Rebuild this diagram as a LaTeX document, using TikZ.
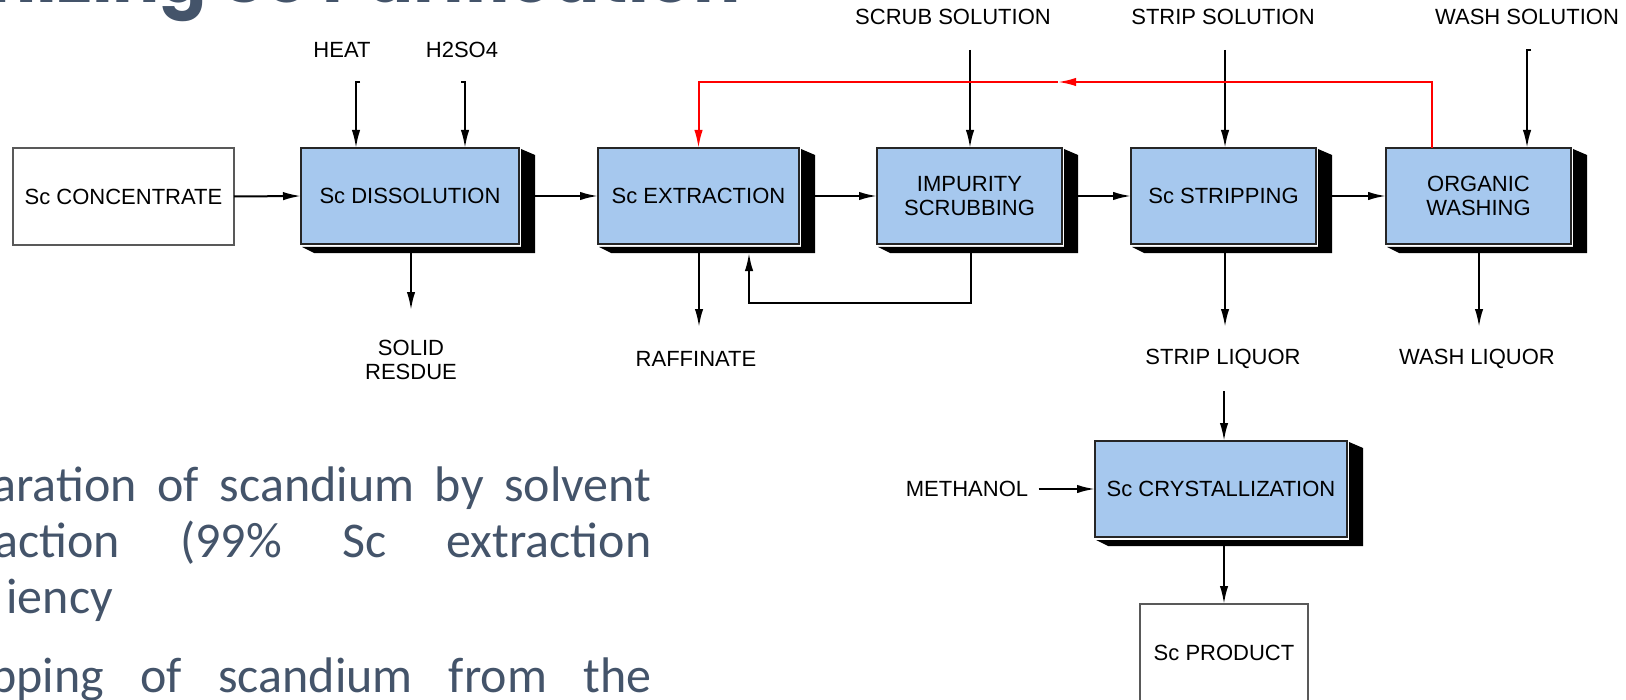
\documentclass[tikz,border=0pt]{standalone}
\usepackage{fontspec}
\setmainfont{Liberation Sans}
\newfontfamily\bodyfont{Carlito}
\newfontfamily\titlefont{Poppins}
\usetikzlibrary{arrows.meta,calc}
\definecolor{procblue}{HTML}{A6C8EE}
\definecolor{slate}{HTML}{44546A}
\begin{document}
\begin{tikzpicture}[x=0.5pt,y=-0.5pt,
  font=\fontsize{11}{12}\selectfont,
  arr/.style={line width=1pt,-{Latex[length=9pt,width=4.2pt]}},
  proc/.style={draw=black!85,line width=0.6pt,fill=procblue,inner sep=2pt,outer sep=0pt,align=center,minimum height=48pt},
  plainbox/.style={draw=black!65,line width=0.6pt,fill=white,inner sep=2pt,outer sep=0pt,align=center},
  lbl/.style={inner sep=1pt,align=center},
  bodytext/.style={anchor=base west,inner sep=0pt,text=slate,font=\bodyfont\fontsize{25}{28}\selectfont}]
\useasboundingbox (0,0) rectangle (1626,700);
\clip (0,0) rectangle (1626,700);

% title and body text
\node[anchor=base east,inner sep=0pt,text=slate,font=\titlefont\bfseries\fontsize{35}{38}\selectfont] (title) at (741,3) {mizing Sc Purification};
\node[bodytext] (b1) at (-8,501) {\makebox[329.5pt][s]{aration of scandium by solvent}};
\node[bodytext] (b2) at (-6,557) {\makebox[328.5pt][s]{action (99\% Sc extraction}};
\node[bodytext] (b3) at (6,613) {iency};
\node[bodytext] (b4) at (-10,692) {\makebox[330.5pt][s]{pping of scandium from the}};

% boxes
\node[plainbox,minimum width=110.5pt,minimum height=48.5pt] (conc) at (123.5,196.5) {Sc CONCENTRATE};
\node[proc,minimum width=109pt] (diss) at (410,196) {Sc DISSOLUTION};
\node[proc,minimum width=100.5pt] (extr) at (698.5,196) {Sc EXTRACTION};
\node[proc,minimum width=92.5pt] (scrub) at (969.5,196) {IMPURITY\\SCRUBBING};
\node[proc,minimum width=92.5pt] (strip) at (1223.5,196) {Sc STRIPPING};
\node[proc,minimum width=92.5pt] (wash) at (1478.5,196) {ORGANIC\\WASHING};
\node[proc,minimum width=126pt] (cryst) at (1221,489) {Sc CRYSTALLIZATION};
\node[plainbox,minimum width=84pt,minimum height=49pt] (prod) at (1224,653) {Sc PRODUCT};

% 3D shadows
\foreach \n in {diss,extr,scrub,strip,wash,cryst}{
  \fill[black] ($(\n.north east)+(2,1)$) -- ($(\n.north east)+(16,7)$) -- ($(\n.south east)+(16,9)$)
    -- ($(\n.south west)+(13,9)$) -- ($(\n.south west)+(1,3)$) -- ($(\n.south east)+(2,3)$) -- cycle;
}

% labels
\node[lbl] (heat) at (342,50) {HEAT};
\node[lbl] (acid) at (462,50) {H2SO4};
\node[lbl] (scrubsol) at (953,17) {SCRUB SOLUTION};
\node[lbl] (stripsol) at (1223,17) {STRIP SOLUTION};
\node[lbl] (washsol) at (1527,17) {WASH SOLUTION};
\node[lbl] (solid) at (411,360) {SOLID\\RESDUE};
\node[lbl] (raff) at (696,359) {RAFFINATE};
\node[lbl] (stripliq) at (1223,359) {STRIP LIQUOR};
\node[lbl] (washliq) at (1477,359) {WASH LIQUOR};
\node[lbl] (methanol) at (967,489) {METHANOL};

% free ends
\coordinate (heatin) at (356,82);
\coordinate (acidin) at (465,82);
\coordinate (scrubin) at (970,50);
\coordinate (stripin) at (1225,50);
\coordinate (washin) at (1527,50);
\coordinate (redtip) at (1058,82);
\coordinate (solidend) at (411,310);
\coordinate (raffend) at (699,327);
\coordinate (stripliqend) at (1225,327);
\coordinate (washliqend) at (1479,327);
\coordinate (crystin) at (1224,391);

% main flow
\draw[arr] (conc.east) -- (diss.west);
\draw[arr] ([xshift=8pt]diss.east) -- (extr.west);
\draw[arr] ([xshift=8pt]extr.east) -- (scrub.west);
\draw[arr] ([xshift=8pt]scrub.east) -- (strip.west);
\draw[arr] ([xshift=8pt]strip.east) -- (wash.west);

% inputs
\draw[arr] ($(heatin)+(4,0)$) -- (heatin) -- (heatin |- diss.north);
\draw[arr] ($(acidin)+(-4,0)$) -- (acidin) -- (acidin |- diss.north);
\draw[arr] (scrubin) -- (scrubin |- scrub.north);
\draw[arr] (stripin) -- (stripin |- strip.north);
\draw[arr] ($(washin)+(4,0)$) -- (washin) -- (washin |- wash.north);

% red organic recycle
\draw[arr,red] ([xshift=-23.25pt]wash.north) |- (redtip);
\draw[arr,red] (redtip) -| (extr.north);

% outputs
\draw[arr] ($(diss.south)+(1,9)$) -- (solidend);
\draw[arr] ($(extr.south)+(0.5,9)$) -- (raffend);
\draw[arr] ($(scrub.south)+(1.5,9)$) -- ++(0,50) -| ($(extr.south)+(50.5,9)$);
\draw[arr] ($(strip.south)+(1.5,9)$) -- (stripliqend);
\draw[arr] ($(wash.south)+(0.5,9)$) -- (washliqend);

% crystallization
\draw[arr] (crystin) -- (crystin |- cryst.north);
\draw[arr] ([xshift=4pt]methanol.east) -- (cryst.west);
\draw[arr] ($(cryst.south)+(3,9)$) -- (prod.north);
\end{tikzpicture}
\end{document}
